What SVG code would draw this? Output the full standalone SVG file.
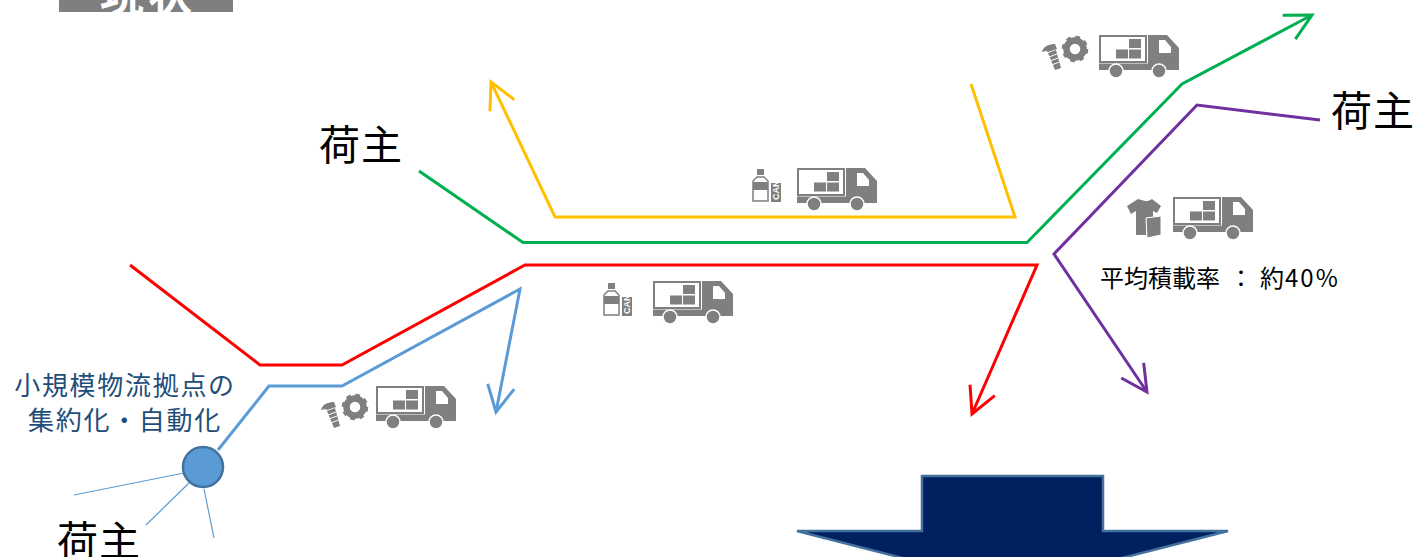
<svg xmlns="http://www.w3.org/2000/svg" width="1417" height="557" viewBox="0 0 1417 557">
<style>
text{font-family:"Noto Sans CJK JP","Noto Sans",sans-serif}
.line{fill:none;stroke-width:3;stroke-linejoin:miter}
.g{fill:#7f7f7f}
.thin{fill:none;stroke:#5b9bd5;stroke-width:1.2}
.shipper{font-size:41px;fill:#000;letter-spacing:1px}
.hub{font-size:26px;fill:#1f4e79;text-anchor:middle;letter-spacing:1.700px}
</style>
<defs>
<marker id="aG" markerUnits="userSpaceOnUse" markerWidth="40" markerHeight="40" refX="30" refY="20" orient="auto" overflow="visible"><path d="M4,6.5L30,20L4,33.5" fill="none" stroke="#00b050" stroke-width="3"/></marker>
<marker id="aY" markerUnits="userSpaceOnUse" markerWidth="40" markerHeight="40" refX="30" refY="20" orient="auto" overflow="visible"><path d="M4,6.5L30,20L4,33.5" fill="none" stroke="#ffc000" stroke-width="3"/></marker>
<marker id="aR" markerUnits="userSpaceOnUse" markerWidth="40" markerHeight="40" refX="30" refY="20" orient="auto" overflow="visible"><path d="M4,6.5L30,20L4,33.5" fill="none" stroke="#ff0000" stroke-width="3"/></marker>
<marker id="aB" markerUnits="userSpaceOnUse" markerWidth="40" markerHeight="40" refX="30" refY="20" orient="auto" overflow="visible"><path d="M4,6.5L30,20L4,33.5" fill="none" stroke="#5b9bd5" stroke-width="3"/></marker>
<marker id="aP" markerUnits="userSpaceOnUse" markerWidth="40" markerHeight="40" refX="30" refY="20" orient="auto" overflow="visible"><path d="M4,6.5L30,20L4,33.5" fill="none" stroke="#7030a0" stroke-width="3"/></marker>
<g id="truck">
<rect x="1" y="1" width="46" height="26" fill="#fff" stroke="#7f7f7f" stroke-width="2"/>
<rect class="g" x="30" y="4" width="12" height="9"/><rect class="g" x="30" y="14.500" width="12" height="9"/><rect class="g" x="17" y="14.500" width="12" height="9"/>
<path class="g" d="M0,28.500H49V0H68L80,13V35H0Z"/>
<path fill="#fff" d="M60,5H66L72,12V18H60Z"/>
<circle class="g" cx="17" cy="36" r="7" stroke="#fff" stroke-width="1.500"/>
<circle class="g" cx="60" cy="36" r="7" stroke="#fff" stroke-width="1.500"/>
</g>
<g id="gear">
<circle r="8.500" fill="none" stroke="#7f7f7f" stroke-width="6.500"/>
<circle r="11.800" fill="none" stroke="#7f7f7f" stroke-width="3" stroke-dasharray="4.630 4.630"/>
</g>
<g id="bolt">
<path class="g" d="M0,8C1,2 8,0 13,0L15,5L6,8L4,7Z"/>
<path class="g" d="M6,9L14,6L19,24L13,26Z"/>
<path d="M7,13L15,10M8,17L16,14M9.500,21L17.500,18" stroke="#fff" stroke-width="1"/>
</g>
<g id="bottle">
<rect class="g" x="4" y="0" width="7" height="6"/>
<path d="M4,8H11L15,12V32H0V12Z" fill="#fff" stroke="#7f7f7f" stroke-width="1.500"/>
<rect class="g" x="0" y="13" width="15" height="8"/>
<rect class="g" x="18" y="14" width="10" height="19"/>
<text transform="translate(26,31) rotate(-90)" font-size="9" font-weight="700" fill="#fff" style="font-family:'Liberation Sans',sans-serif">CAN</text>
</g>
</defs>

<g id="status-label">
<rect x="59" y="-10" width="174" height="22" fill="#7f7f7f"/>
<text x="148" y="11" font-size="44" font-weight="700" fill="#fff" text-anchor="middle" letter-spacing="4">現状</text>
</g>

<g id="connectors">
<path class="line" stroke="#00b050" marker-end="url(#aG)" d="M419,171L523,242.500H1027L1182,84L1312,15"/>
<path class="line" stroke="#ffc000" marker-end="url(#aY)" d="M971,84L1015,217H555L491,82"/>
<path class="line" stroke="#ff0000" marker-end="url(#aR)" d="M130,265L260,365H342L525,265H1037L972,414"/>
<path class="line" stroke="#5b9bd5" marker-end="url(#aB)" d="M218,450L269,386H342L520,289L496,412"/>
<path class="line" stroke="#7030a0" marker-end="url(#aP)" d="M1320,120L1197,105L1054,254L1147,392"/>
<path class="thin" d="M74,495L184,473M146,525L189,483M204,489L214,538"/>
</g>

<g id="hub">
<circle cx="203" cy="467" r="20" fill="#5b9bd5" stroke="#41719c" stroke-width="2.500"/>
<text class="hub" x="125" y="395">小規模物流拠点の</text>
<text class="hub" x="125" y="430">集約化・自動化</text>
</g>

<g id="shipper-left"><text class="shipper" x="319" y="160">荷主</text></g>
<g id="shipper-bottom"><text class="shipper" x="57" y="556">荷主</text></g>
<g id="shipper-right"><text class="shipper" x="1331" y="126">荷主</text></g>

<g id="truck-top-right">
<use href="#bolt" x="1042" y="44"/><use href="#gear" x="1075" y="49"/><use href="#truck" x="1099" y="35"/>
</g>
<g id="truck-center-top">
<use href="#bottle" x="753" y="169"/><use href="#truck" x="797" y="168"/>
</g>
<g id="truck-center">
<use href="#bottle" x="604" y="283"/><use href="#truck" x="653" y="281"/>
</g>
<g id="truck-lower-left">
<use href="#bolt" x="321" y="402"/><use href="#gear" x="355" y="407"/><use href="#truck" x="376" y="386"/>
</g>
<g id="truck-right">
<path class="g" d="M1138,199L1145,201H1148L1152,199L1161,206L1157,213L1153,211V217L1146,218V235H1136V211L1131,214L1127,206Z"/>
<path class="g" stroke="#fff" d="M1146,218L1161,216V235L1147,238Z"/>
<use href="#truck" x="1173" y="197"/>
<text x="1100" y="287" font-size="24" fill="#000">平均積載率<tspan x="1229">：</tspan><tspan x="1260">約</tspan><tspan x="1285" letter-spacing="2">40%</tspan></text>
</g>

<g id="big-arrow">
<path d="M922,476H1103V531H1228L1012,586L797,531H922Z" fill="#002060" stroke="#41719c" stroke-width="2.500"/>
</g>
</svg>
